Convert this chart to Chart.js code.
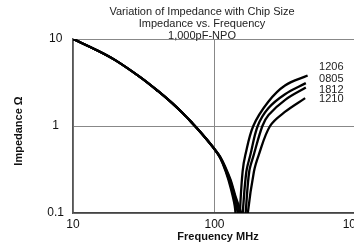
<!DOCTYPE html>
<html>
<head>
<meta charset="utf-8">
<script src="https://cdn.jsdelivr.net/npm/chart.js@4.4.1/dist/chart.umd.min.js"></script>
<style>
  html, body { margin: 0; padding: 0; background: #fff; overflow: hidden; }
  #wrap { width: 400px; height: 248px; }
</style>
</head>
<body>
<div id="wrap"><canvas id="chart"></canvas></div>
<script>
// shared capacitive slope, 10 - 100 MHz
const freqShared = [10, 15, 20, 30, 40, 50, 60, 70, 80, 90, 100];
const zShared = [10, 7.33, 5.68, 3.62, 2.51, 1.84, 1.39, 1.07, 0.844, 0.671, 0.542];

// per chip size, through resonance and up the inductive side
const freq1206 = [110, 120, 130, 140, 146, 152, 158, 165, 188, 240, 315, 455];
const z1206 = [0.425, 0.30, 0.195, 0.11, 0.03, 0.12, 0.30, 0.46, 1.0, 1.9, 2.92, 3.8];
const freq0805 = [110, 120, 130, 140, 146, 150, 159, 168, 179, 202, 240, 315, 442];
const z0805 = [0.43, 0.31, 0.21, 0.13, 0.10, 0.03, 0.11, 0.30, 0.46, 1.0, 1.6, 2.32, 3.11];
const freq1812 = [110, 120, 130, 140, 150, 156, 166, 176, 189, 218, 241, 316, 442];
const z1812 = [0.435, 0.32, 0.23, 0.15, 0.10, 0.03, 0.10, 0.30, 0.46, 1.0, 1.34, 2.0, 2.77];
const freq1210 = [110, 120, 130, 140, 150, 157, 162, 172, 190, 205, 247, 316, 437];
const z1210 = [0.44, 0.33, 0.24, 0.16, 0.115, 0.09, 0.03, 0.10, 0.30, 0.46, 1.0, 1.46, 2.09];

const sizes = ['1206', '0805', '1812', '1210'];
const labelFreq = [548, 548, 548, 548];
const labelZ = [4.79, 3.48, 2.60, 2.05];

const xTicks = [10, 100, 1000];
const yTicks = [0.1, 1, 10];
const titleLines = ['Variation of Impedance with Chip Size', 'Impedance vs. Frequency', '1,000pF-NPO'];

function pts(fs, zs) {
  const f = freqShared.concat(fs), z = zShared.concat(zs);
  return f.map((v, i) => ({ x: v, y: z[i] }));
}
const seriesData = [pts(freq1206, z1206), pts(freq0805, z0805), pts(freq1812, z1812), pts(freq1210, z1210)];

const annotate = {
  id: 'annotate',
  afterDraw(chart) {
    const c = chart.ctx, xs = chart.scales.x, ys = chart.scales.y;
    c.save();
    c.fillStyle = '#222';
    c.textAlign = 'center';
    c.textBaseline = 'middle';
    c.font = '11px "Liberation Sans", Arial, sans-serif';
    titleLines.forEach((t, i) => c.fillText(t, 202, 12 + i * 12));
    // chip size labels
    c.textAlign = 'left';
    sizes.forEach((s, i) => c.fillText(s, xs.getPixelForValue(labelFreq[i]), ys.getPixelForValue(labelZ[i])));
    // axis titles
    c.fillStyle = '#111';
    c.font = 'bold 11px "Liberation Sans", Arial, sans-serif';
    c.textAlign = 'center';
    c.fillText('Frequency MHz', 218, 237);
    c.translate(19, 131);
    c.rotate(-Math.PI / 2);
    c.fillText('Impedance \u03A9', 0, 0);
    c.restore();
  }
};

new Chart(document.getElementById('chart'), {
  type: 'line',
  data: {
    datasets: sizes.map((s, i) => ({
      label: s,
      data: seriesData[i],
      borderColor: '#000',
      borderWidth: 2.3,
      pointRadius: 0,
      fill: false,
      tension: 0.35
    }))
  },
  options: {
    responsive: true,
    maintainAspectRatio: false,
    animation: false,
    layout: { padding: { left: 0, top: 39, right: 44, bottom: 0 } },
    plugins: { legend: { display: false }, title: { display: false }, tooltip: { enabled: false } },
    scales: {
      x: {
        type: 'logarithmic',
        min: 10, max: 1000,
        afterBuildTicks: s => { s.ticks = xTicks.map(v => ({ value: v })); },
        afterFit: s => { s.height = 35; },
        ticks: { color: '#111', font: { size: 12, family: '"Liberation Sans", Arial, sans-serif' }, padding: 4, maxRotation: 0, callback: v => String(v) },
        grid: { color: '#888', lineWidth: 1, drawTicks: false },
        border: { color: '#444', width: 1.5 }
      },
      y: {
        type: 'logarithmic',
        min: 0.1, max: 10,
        afterBuildTicks: s => { s.ticks = yTicks.map(v => ({ value: v })); },
        afterFit: s => { s.width = 73; },
        ticks: { color: '#111', font: { size: 12, family: '"Liberation Sans", Arial, sans-serif' }, padding: 9, crossAlign: 'center', callback: v => String(v) },
        grid: { color: '#888', lineWidth: 1, drawTicks: false },
        border: { color: '#555', width: 1.5 }
      }
    }
  },
  plugins: [annotate]
});
</script>
</body>
</html>
